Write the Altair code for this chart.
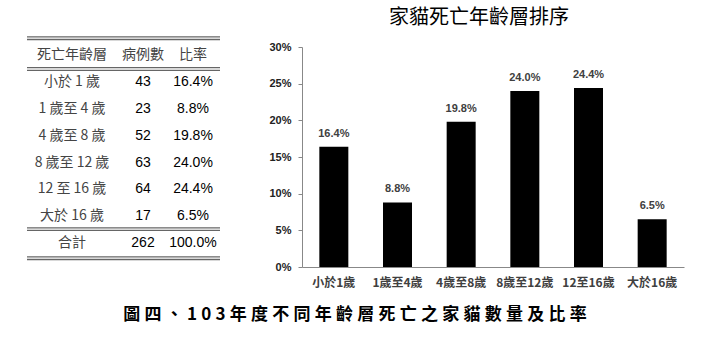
import altair as alt
import pandas as pd

# ---------------- data ----------------
headers = ["死亡年齡層", "病例數", "比率"]
table_labels = ["小於 1 歲", "1 歲至 4 歲", "4 歲至 8 歲", "8 歲至 12 歲", "12 至 16 歲", "大於 16 歲"]
bar_labels = ["小於1歲", "1歲至4歲", "4歲至8歲", "8歲至12歲", "12至16歲", "大於16歲"]
counts = [43, 23, 52, 63, 64, 17]
ratios = [16.4, 8.8, 19.8, 24.0, 24.4, 6.5]
total_label = "合計"
total_count = 262
total_ratio = 100.0
y_ticks = [0, 5, 10, 15, 20, 25, 30]
title_text = "家貓死亡年齡層排序"
caption_text = "圖四、103年度不同年齡層死亡之家貓數量及比率"

CJK = "Noto Sans CJK TC"
LAT = "Liberation Sans"

# ---------------- table ----------------
cjk_rows = []
for i, h in enumerate(headers):
    cjk_rows.append({"row": 0, "col": i + 1, "txt": h})
for r, lab in enumerate(table_labels, start=1):
    cjk_rows.append({"row": r, "col": 1, "txt": lab})
cjk_rows.append({"row": len(table_labels) + 1, "col": 1, "txt": total_label})
cjk_df = pd.DataFrame(cjk_rows)

num_rows = []
for r, (c, p) in enumerate(zip(counts, ratios), start=1):
    num_rows.append({"row": r, "col": 2, "txt": str(c)})
    num_rows.append({"row": r, "col": 3, "txt": f"{p:.1f}%"})
num_rows.append({"row": len(counts) + 1, "col": 2, "txt": str(total_count)})
num_rows.append({"row": len(counts) + 1, "col": 3, "txt": f"{total_ratio:.1f}%"})
num_df = pd.DataFrame(num_rows)

rule_pos = [-0.68, 0.47, 6.43, 7.51]
rule_df = pd.DataFrame({"y": [v + d for v in rule_pos for d in (0.0, 0.1)]})

xs = alt.Scale(domain=[1, 2, 3], range=[72, 143, 193], zero=False, nice=False)
ys = alt.Scale(domain=[-0.3, 7.89], reverse=True, nice=False, zero=False)

t_cjk = alt.Chart(cjk_df).mark_text(font=CJK, fontSize=14, color="#444").encode(
    x=alt.X("col:Q", scale=xs, axis=None),
    y=alt.Y("row:Q", scale=ys, axis=None),
    text="txt:N",
)
t_num = alt.Chart(num_df).mark_text(font=LAT, fontSize=14, color="black").encode(
    x=alt.X("col:Q", scale=xs, axis=None),
    y=alt.Y("row:Q", scale=ys, axis=None),
    text="txt:N",
)
t_rules = alt.Chart(rule_df).mark_rule(color="#666", strokeWidth=1.3).encode(
    y=alt.Y("y:Q", scale=ys, axis=None),
    x=alt.value(27),
    x2=alt.value(220),
)
table = alt.layer(t_rules, t_cjk, t_num).properties(width=225, height=220)

# ---------------- bar chart ----------------
bars_df = pd.DataFrame({"label": bar_labels, "ratio": ratios})
base = alt.Chart(bars_df).transform_calculate(
    frac="datum.ratio / 100",
    lab="format(datum.ratio, '.1f') + '%'",
)
xenc = alt.X(
    "label:N",
    sort=bar_labels,
    scale=alt.Scale(paddingInner=0, paddingOuter=0),
    axis=alt.Axis(
        title=None, labelAngle=0, ticks=False, domainColor="#888",
        labelFont=CJK, labelFontSize=12, labelFontWeight="bold",
        labelColor="#404040", labelPadding=10,
    ),
)
yenc = alt.Y(
    "frac:Q",
    scale=alt.Scale(domain=[0, 0.3], nice=False),
    axis=alt.Axis(
        title=None, values=[v / 100 for v in y_ticks], format=".0%", grid=False,
        tickSize=4, tickColor="#888", domainColor="#888",
        labelFont=LAT, labelFontSize=11, labelFontWeight="bold",
        labelColor="#222", labelPadding=7,
    ),
)
bar = base.mark_bar(color="black", size=29).encode(x=xenc, y=yenc)
txt = base.mark_text(
    dy=-13, font=LAT, fontSize=11, fontWeight="bold", color="#404040"
).encode(x=xenc, y=yenc, text="lab:N")

bars = alt.layer(bar, txt).properties(
    width=382,
    height=220,
    title=alt.TitleParams(
        title_text, font=CJK, fontSize=20, fontWeight="normal",
        color="black", dx=-14, offset=13,
    ),
)

spaced_caption = "\u2005".join(list(caption_text))

chart = alt.hconcat(table, bars, spacing=43).properties(
    title=alt.TitleParams(
        spaced_caption, orient="bottom", font=CJK, fontSize=17,
        fontWeight="bold", color="black", anchor="middle", offset=19, dx=13,
    ),
    padding={"left": 0, "top": 8, "right": 18, "bottom": 5},
).configure_view(stroke=None)

chart.save("out.html", embed_options={"renderer": "svg", "actions": False})
